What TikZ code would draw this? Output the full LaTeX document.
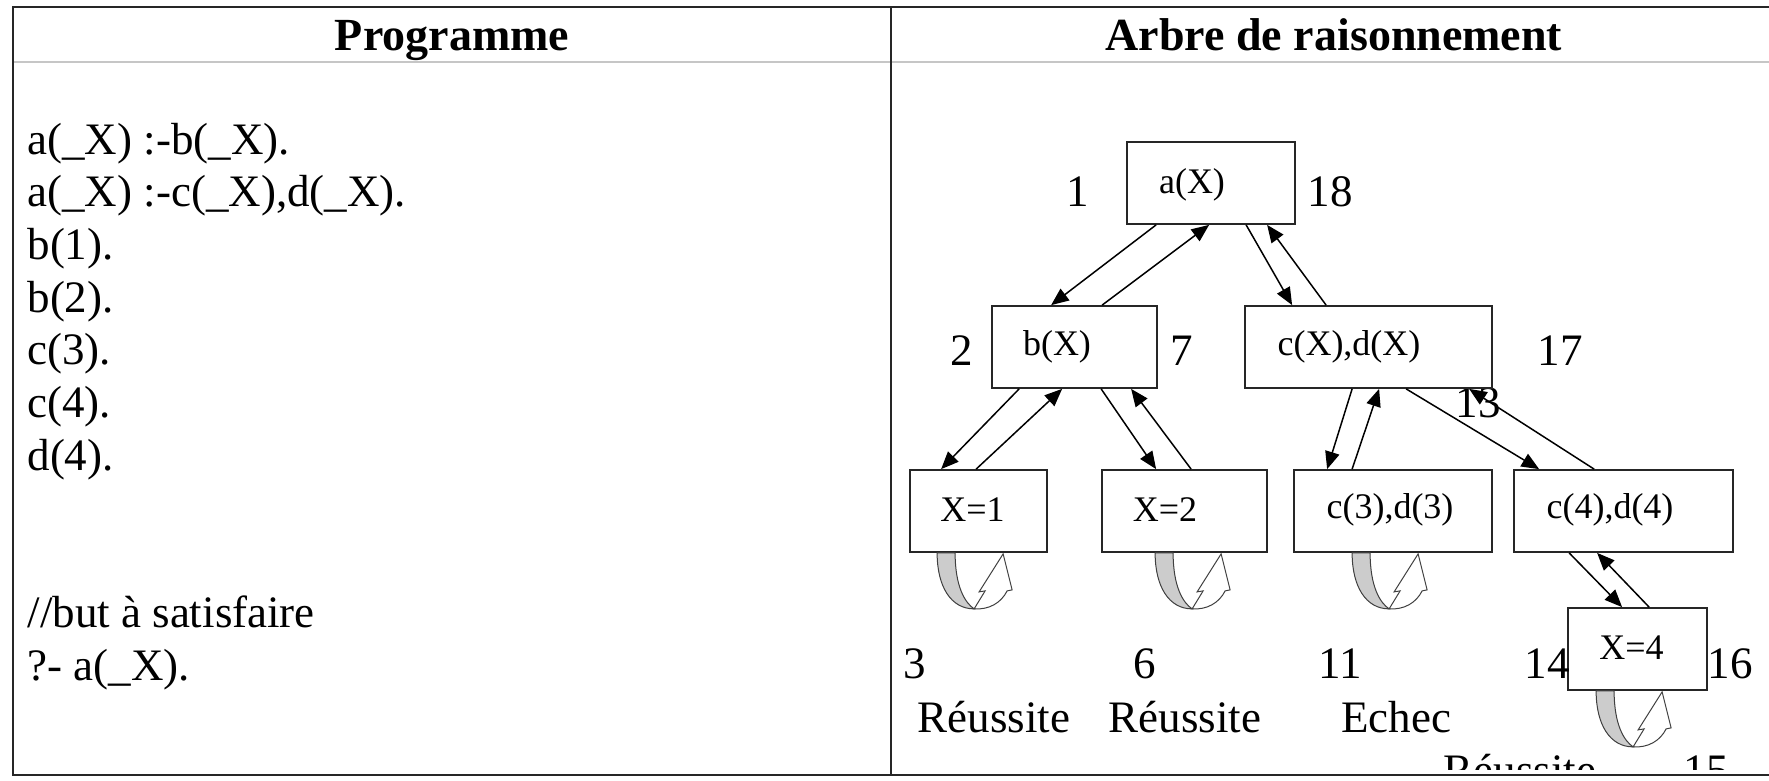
\documentclass[tikz,border=0pt]{standalone}
\usepackage{fontspec}
\setmainfont{Liberation Serif}
\usetikzlibrary{arrows.meta,calc}
\begin{document}
\begin{tikzpicture}[x=0.4pt,y=-0.4pt,
  box/.style={draw=black!85, line width=0.7pt, fill=white, inner sep=0pt, minimum height=32.8pt},
  ntext/.style={font=\fontsize{14.4pt}{17pt}\selectfont, inner sep=0pt},
  lbl/.style={font=\fontsize{18pt}{21pt}\selectfont, inner sep=0pt, anchor=base},
  code/.style={font=\fontsize{18pt}{21pt}\selectfont, inner sep=0pt, anchor=base west},
  head/.style={font=\fontsize{18.4pt}{22pt}\selectfont\bfseries, inner sep=0pt, anchor=base},
  arr/.style={-{Triangle[length=7pt,width=5.8pt]}, line width=0.6pt, draw=black},
  rule/.style={line width=0.8pt, draw=black!85},
  uloop/.pic={
    \filldraw[fill=gray!40, draw=black!75, line width=0.4pt]
      (0,0) .. controls (0,34) and (14,56) .. (37,56)
      .. controls (28,50) and (18,34) .. (18,0) -- cycle;
    \filldraw[fill=white, draw=black!75, line width=0.4pt]
      (37,56) -- (48,38) -- (42,39) -- (66,1) -- (75,37) -- (70,38)
      .. controls (64,50) and (52,57) .. (37,56) -- cycle;
  }
]
\useasboundingbox (0,0) rectangle (1769,781);
\fill[white] (0,0) rectangle (1769,781);

% table
\draw[line width=1pt, draw=gray!45] (13,62) -- (1769,62);
\draw[rule] (12,7) -- (1769,7);
\draw[rule] (13,6) -- (13,776);
\draw[rule] (891,7) -- (891,775);
\draw[rule] (12,775) -- (1769,775);

\node[head] (h1) at (452,50) {Programme};
\node[head] (h2) at (1334,50) {Arbre de raisonnement};

% program
\node[code] (l1) at (27,154) {a(\_X) :-b(\_X).};
\node[code] (l2) at (27,206.6) {a(\_X) :-c(\_X),d(\_X).};
\node[code] (l3) at (27,259) {b(1).};
\node[code] (l4) at (27,312) {b(2).};
\node[code] (l5) at (27,364) {c(3).};
\node[code] (l6) at (27,417) {c(4).};
\node[code] (l7) at (27,470) {d(4).};
\node[code] (l8) at (27,627) {//but à satisfaire};
\node[code] (l9) at (27,680) {?- a(\_X).};

% labels behind boxes
\node[lbl] (n13) at (1478,417) {13};

% boxes
\node[box, minimum width=67.2pt] (a) at (1211,183) {};
\node[box, minimum width=66pt] (b) at (1074.5,347) {};
\node[box, minimum width=98.8pt] (c) at (1368.5,347) {};
\node[box, minimum width=54.8pt] (x1) at (978.5,511) {};
\node[box, minimum width=66pt] (x2) at (1184.5,511) {};
\node[box, minimum width=79.2pt] (c3) at (1393,511) {};
\node[box, minimum width=87.6pt] (c4) at (1623.5,511) {};
\node[box, minimum width=55.6pt] (x4) at (1637.5,649) {};

\node[ntext] (ta) at (1192,185) {a(X)};
\node[ntext] (tb) at (1057,347) {b(X)};
\node[ntext] (tc) at (1349,347) {c(X),d(X)};
\node[ntext] (tx1) at (972.5,510) {X=1};
\node[ntext] (tx2) at (1165,510) {X=2};
\node[ntext] (tc3) at (1390,510) {c(3),d(3)};
\node[ntext] (tc4) at (1610,510) {c(4),d(4)};
\node[ntext] (tx4) at (1631.5,648) {X=4};

% numbers
\node[lbl] (n1) at (1078,206) {1};
\node[lbl] (n18) at (1330,206) {18};
\node[lbl] (n2) at (962,365) {2};
\node[lbl] (n7) at (1182,365) {7};
\node[lbl] (n17) at (1560,365) {17};
\node[lbl] (n3) at (915,678) {3};
\node[lbl] (n6) at (1145,678) {6};
\node[lbl] (n11) at (1340,678) {11};
\node[lbl] (n14) at (1547,678) {14};
\node[lbl] (n16) at (1730,678) {16};
\node[lbl] (r1) at (994,732) {Réussite};
\node[lbl] (r2) at (1185,732) {Réussite};
\node[lbl] (e1) at (1396,732) {Echec};
\begin{scope}
  \clip (0,0) rectangle (1769,769);
  \node[lbl, anchor=base west] (r3) at (1443,785) {Réussite};
  \node[lbl, anchor=base west] (n15) at (1683,785) {15};
\end{scope}

% arrows
\draw[arr] ($(a.south west)+(30,0)$) -- ($(b.north west)+(60,0)$);
\draw[arr] ($(b.north west)+(111,0)$) -- ($(a.south west)+(83,0)$);
\draw[arr] ($(a.south west)+(120,0)$) -- ($(c.north west)+(48,0)$);
\draw[arr] ($(c.north west)+(82,0)$) -- ($(a.south west)+(141,0)$);

\draw[arr] ($(b.south west)+(28,0)$) -- ($(x1.north west)+(32,0)$);
\draw[arr] ($(x1.north west)+(67,0)$) -- ($(b.south west)+(71,0)$);
\draw[arr] ($(b.south west)+(110,0)$) -- ($(x2.north west)+(55,0)$);
\draw[arr] ($(x2.north west)+(90,0)$) -- ($(b.south west)+(140,0)$);

\draw[arr] ($(c.south west)+(108,0)$) -- ($(c3.north west)+(34,0)$);
\draw[arr] ($(c3.north west)+(59,0)$) -- ($(c.south west)+(135,0)$);
\draw[arr] ($(c.south west)+(162,0)$) -- ($(c4.north west)+(26,0)$);
\draw[arr] ($(c4.north west)+(81,0)$) -- ($(c.south west)+(225,0)$);

\draw[arr] ($(c4.south west)+(56,0)$) -- ($(x4.north west)+(55,0)$);
\draw[arr] ($(x4.north west)+(82,0)$) -- ($(c4.south west)+(84,0)$);

% loops
\pic at ($(x1.south west)+(28,0)$) {uloop};
\pic at ($(x2.south west)+(54,0)$) {uloop};
\pic at ($(c3.south west)+(59,0)$) {uloop};
\pic at ($(x4.south west)+(29,0)$) {uloop};
\end{tikzpicture}
\end{document}
